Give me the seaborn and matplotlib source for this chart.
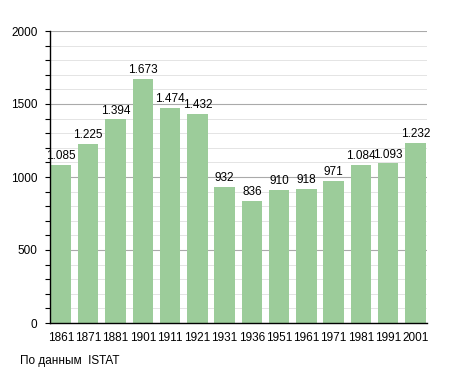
import matplotlib
matplotlib.use("Agg")
import matplotlib.pyplot as plt
import seaborn as sns
import pandas as pd
from matplotlib.ticker import MultipleLocator

years = ["1861", "1871", "1881", "1901", "1911", "1921", "1931",
         "1936", "1951", "1961", "1971", "1981", "1991", "2001"]
population = [1085, 1225, 1394, 1673, 1474, 1432, 932,
              836, 910, 918, 971, 1084, 1093, 1232]
source_note = "По данным  ISTAT"

df = pd.DataFrame({"year": years, "pop": population})

sns.set_style("white")
plt.rcParams["font.family"] = ["Liberation Sans", "DejaVu Sans"]
plt.rcParams["text.color"] = "black"
plt.rcParams["xtick.color"] = "black"
plt.rcParams["ytick.color"] = "black"

fig = plt.figure(figsize=(4.55, 3.73), dpi=100)
ax = fig.add_axes([50 / 455, 1 - 323 / 373, 377 / 455, 292 / 373])

sns.barplot(data=df, x="year", y="pop", color="#9ccc9a", saturation=1,
            width=0.75, linewidth=0, ax=ax, zorder=2)

ax.set_ylim(0, 2000)
ax.yaxis.set_major_locator(MultipleLocator(500))
ax.yaxis.set_minor_locator(MultipleLocator(100))
ax.grid(which="major", axis="y", color="#aaaaaa", linewidth=0.8, zorder=0)
ax.grid(which="minor", axis="y", color="#e4e4e4", linewidth=0.7, zorder=0)
ax.set_axisbelow(True)

for s in ["top", "right"]:
    ax.spines[s].set_visible(False)
ax.spines["left"].set_color("black")
ax.spines["bottom"].set_color("black")
ax.spines["left"].set_linewidth(1)
ax.spines["bottom"].set_linewidth(1)

ax.tick_params(axis="y", which="major", left=True, length=3.6, width=0.8,
               labelsize=8.5, pad=5.5, colors="black")
ax.tick_params(axis="y", which="minor", left=True, length=3.6, width=0.8,
               colors="black")
ax.tick_params(axis="x", bottom=False, labelsize=8.5, pad=3, colors="black")
ax.set_xlabel("")
ax.set_ylabel("")
ax.set_xlim(-0.40, len(years) - 1 + 0.42)

for i, v in enumerate(population):
    lab = f"{v:,}".replace(",", ".")
    ax.text(i, v + 20, lab, ha="center", va="bottom", fontsize=8.5,
            color="black", zorder=4)

fig.text(20 / 455, 1 - 361 / 373, source_note, fontsize=8.5, va="center",
         color="black")

fig.savefig("out.png", dpi=100)
